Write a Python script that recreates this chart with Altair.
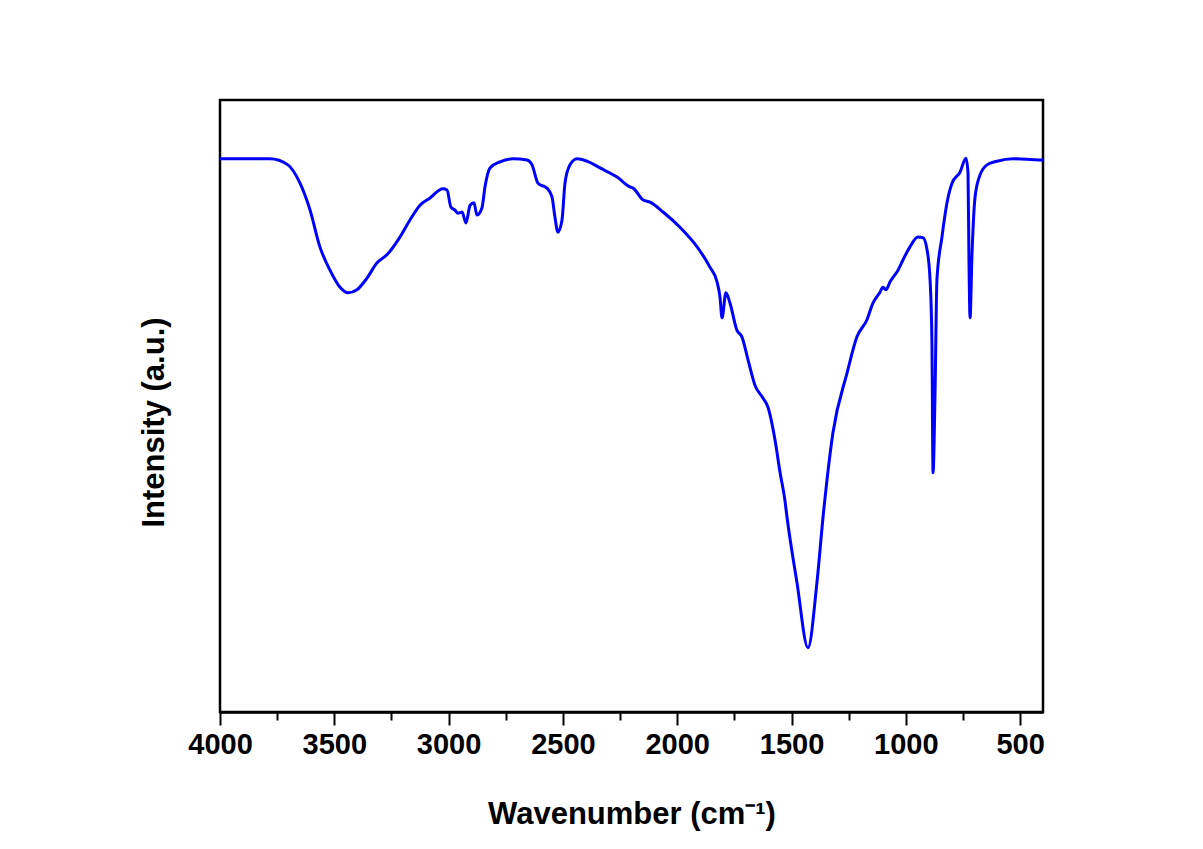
import altair as alt
import pandas as pd

wavenumber = [4000, 3781, 3703, 3650, 3606, 3563, 3519, 3475, 3440, 3401, 3357, 3313, 3270,
              3213, 3169, 3125, 3081, 3025, 3007, 2990, 2972, 2959, 2941, 2924, 2906, 2889,
              2876, 2854, 2841, 2819, 2775, 2718, 2657, 2635, 2609, 2570, 2548, 2535, 2522,
              2504, 2491, 2469, 2438, 2395, 2338, 2263, 2207, 2193, 2150, 2119, 2062, 1988,
              1913, 1857, 1826, 1813, 1804, 1787, 1769, 1739, 1717, 1690, 1660, 1625, 1603,
              1572, 1550, 1529, 1520, 1476, 1428, 1389, 1362, 1319, 1257, 1214, 1170, 1144,
              1113, 1100, 1087, 1069, 1034, 1012, 982, 947, 925, 907, 894, 886, 881, 872, 864,
              842, 820, 798, 763, 737, 728, 724, 719, 711, 697, 676, 645, 601, 531, 413, 400]
intensity = [90.4, 90.4, 89.4, 86.4, 82.0, 76.0, 72.2, 69.4, 68.5, 69.0, 70.9, 73.4, 74.7,
             77.6, 80.4, 82.8, 84.0, 85.5, 85.3, 82.5, 82.0, 81.5, 81.7, 79.9, 82.8, 83.2,
             81.2, 82.4, 85.8, 88.9, 89.9, 90.4, 90.2, 89.4, 86.4, 85.6, 84.2, 80.9, 78.4,
             80.4, 86.4, 89.4, 90.4, 90.0, 88.9, 87.4, 85.8, 85.6, 83.7, 83.3, 81.7, 79.2,
             76.0, 72.7, 70.3, 67.8, 64.4, 68.5, 66.8, 62.4, 61.3, 57.5, 53.4, 51.3, 49.8,
             44.4, 39.1, 34.6, 31.9, 21.1, 10.5, 21.1, 31.9, 45.6, 55.4, 61.3, 64.1, 66.8,
             68.6, 69.4, 69.0, 70.3, 72.2, 73.9, 76.0, 77.6, 77.5, 75.5, 70.6, 60.8, 39.1,
             52.6, 70.6, 77.6, 83.2, 86.4, 88.2, 90.5, 88.1, 74.3, 64.4, 74.3, 84.2, 87.7,
             89.4, 90.0, 90.4, 90.2, 90.2]

major_ticks = [4000, 3500, 3000, 2500, 2000, 1500, 1000, 500]
minor_ticks = [3750, 3250, 2750, 2250, 1750, 1250, 750]

df = pd.DataFrame({"wn": wavenumber, "I": intensity})

FONT = "Liberation Sans"

xscale = alt.Scale(domain=[4000, 400], nice=False, zero=False)
yscale = alt.Scale(domain=[0, 100], nice=False, zero=False)

line = alt.Chart(df).mark_line(color="#0000FF", strokeWidth=3, interpolate="monotone").encode(
    x=alt.X("wn:Q", scale=xscale,
            axis=alt.Axis(values=major_ticks, title="Wavenumber (cm⁻¹)", format="d",
                          tickSize=13, tickWidth=2, tickColor="black",
                          domainColor="black", domainWidth=2.5,
                          labelFont=FONT, labelFontSize=29, labelFontWeight="bold",
                          labelColor="black", labelPadding=5, labelFlush=False,
                          titleFont=FONT, titleFontSize=31, titleFontWeight="bold",
                          titleColor="black", titlePadding=40, grid=False)),
    y=alt.Y("I:Q", scale=yscale,
            axis=alt.Axis(title="Intensity (a.u.)", labels=False, ticks=False, domain=False,
                          grid=False, titleFont=FONT, titleFontSize=31, titleFontWeight="bold",
                          titleColor="black", titlePadding=50, titleY=322)),
    order=alt.Order("wn:Q", sort="descending"),
)

minor = alt.Chart(df).mark_point(opacity=0).encode(
    x=alt.X("wn:Q", scale=xscale,
            axis=alt.Axis(values=minor_ticks, orient="bottom", labels=False, title=None,
                          tickSize=8, tickWidth=2, tickColor="black", domain=False, grid=False)),
)

chart = alt.layer(line, minor).resolve_axis(x="independent").properties(
    width=823, height=612,
    background="white",
    autosize=alt.AutoSizeParams(type="none"),
    padding={"left": 212, "top": 92, "right": 150, "bottom": 120},
).configure_view(stroke="black", strokeWidth=2.5)

chart.save("out.html", embed_options={"renderer": "svg", "actions": False})
